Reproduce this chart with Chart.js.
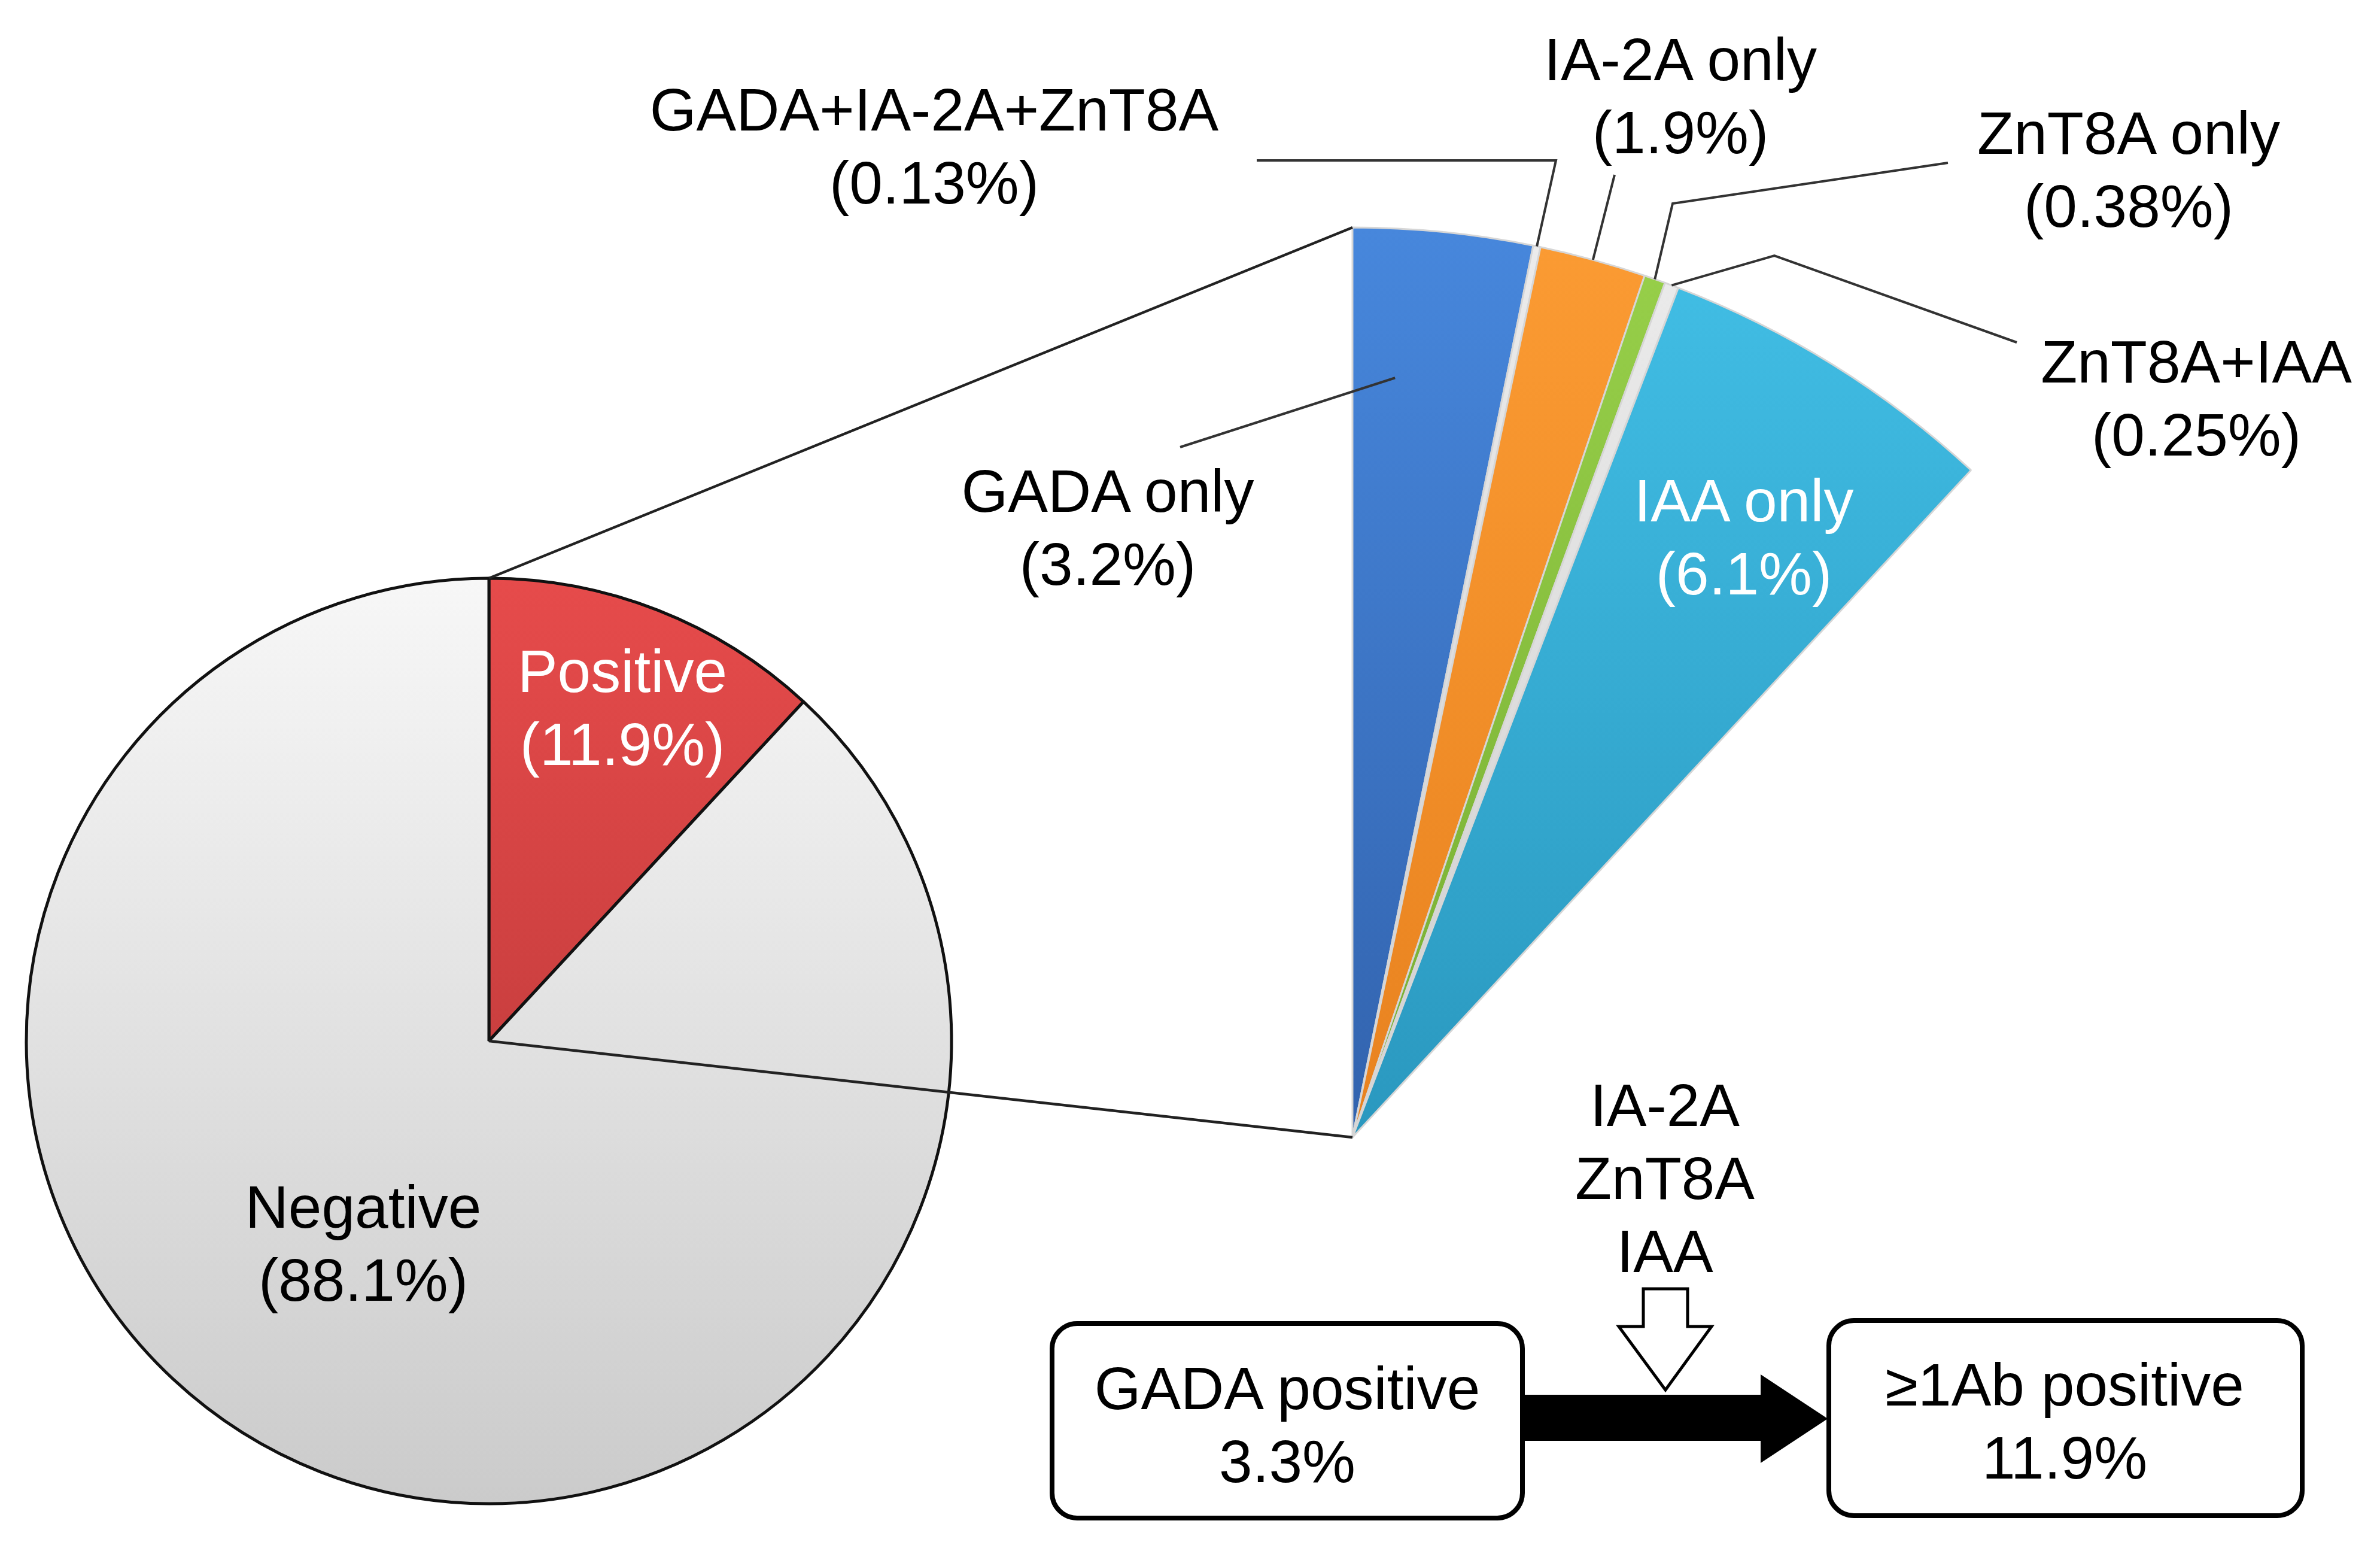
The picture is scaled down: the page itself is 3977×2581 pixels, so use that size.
<!DOCTYPE html>
<html>
<head>
<meta charset="utf-8">
<script src="https://cdn.jsdelivr.net/npm/chart.js@4.4.1/dist/chart.umd.min.js"></script>
<style>
  html, body { margin: 0; padding: 0; background: #fff; overflow: hidden; }
  #stage { position: relative; width: 3977px; height: 2581px; }
  #stage canvas, #stage svg { position: absolute; left: 0; top: 0; }
  .lbl {
    position: absolute; transform: translate(-50%, -50%);
    text-align: center; white-space: pre;
    font-family: "Liberation Sans", Arial, sans-serif;
    font-size: 100px; line-height: 122px; color: #000;
  }
  .white { color: #fff; }
</style>
</head>
<body>
<div id="stage">
  <canvas id="main-pie" width="3977" height="2581"></canvas>
  <canvas id="sub-pie" width="3977" height="2581"></canvas>
  <svg id="flow" width="3977" height="2581" xmlns="http://www.w3.org/2000/svg">
    <rect x="1758" y="2211" width="786" height="325" rx="42" fill="#fff" stroke="#000" stroke-width="8"/>
    <rect x="3056" y="2206" width="791" height="326" rx="42" fill="#fff" stroke="#000" stroke-width="8"/>
    <polygon points="2548,2330 2942,2330 2942,2296 3054,2370 2942,2444 2942,2407 2548,2407" fill="#000"/>
    <polygon points="2746,2153 2820,2153 2820,2216 2860,2216 2783,2322 2705,2216 2746,2216" fill="#fff" stroke="#000" stroke-width="5"/>
  </svg>
</div>
<script>
// overall result
const mainLabels = ['Positive', 'Negative'];
const mainValues = [11.9, 88.1];

// breakdown of the positive part (%)
const subLabels = ['GADA only', 'GADA+IA-2A+ZnT8A', 'IA-2A only', 'ZnT8A only', 'ZnT8A+IAA', 'IAA only'];
const subValues = [3.2, 0.13, 1.9, 0.38, 0.25, 6.1];

// flow diagram at the bottom
const flowFrom = ['GADA positive', '3.3%'];
const flowTo = ['\u22651Ab positive', '11.9%'];
const flowAdded = ['IA-2A', 'ZnT8A', 'IAA'];

// colours (top, bottom of gradient)
const mainColors = [['#e64b4b', '#ae3333'], ['#f7f7f7', '#cbcbcb']];
const subColors = [
  ['#4787dc', '#3263ae'], ['#ececec', '#cfcfcf'], ['#fb9b33', '#e8821f'],
  ['#98d04a', '#76ad32'], ['#ececec', '#cfcfcf'], ['#42bfe6', '#2a98bf']
];

// layout
const W = 3977, H = 2581;
const mainCenter = [817, 1739], mainRadius = 773;
const subApex = [2260, 1900], subRadius = 1520;
const mainLabelPos = [[1040, 1182], [607, 2077]];
const subLabelPos = [[1851, 881], [1561, 244], [2808, 160], [3557, 283], [3670, 665], [2914, 897]];
const leaderRoutes = [
  { anchor: [0.28, 0.836], path: [[1972, 747]] },
  { anchor: [0.5, 1], path: [[2600, 268], [2100, 268]] },
  { anchor: [0.5, 1], path: [[2698, 292]] },
  { anchor: [0.5, 1], path: [[2795, 340], [3255, 272]] },
  { anchor: [0.5, 1], path: [[2965, 427], [3370, 572]] },
  null
];

const subArcDeg = mainValues[0] / 100 * 360;
const sinArc = Math.sin(subArcDeg * Math.PI / 180);

function vGradient(context, stops) {
  const { ctx, chartArea } = context.chart;
  if (!chartArea) return stops[0];
  const g = ctx.createLinearGradient(0, chartArea.top, 0, chartArea.bottom);
  g.addColorStop(0, stops[0]);
  g.addColorStop(1, stops[1]);
  return g;
}

function arcPoint(arc, angFrac, radFrac) {
  const a = arc.startAngle + (arc.endAngle - arc.startAngle) * angFrac;
  const r = arc.outerRadius * radFrac;
  return [arc.x + r * Math.cos(a), arc.y + r * Math.sin(a)];
}

function polyline(ctx, pts) {
  ctx.beginPath();
  ctx.moveTo(pts[0][0], pts[0][1]);
  pts.slice(1).forEach(p => ctx.lineTo(p[0], p[1]));
  ctx.stroke();
}

const mainChart = new Chart(document.getElementById('main-pie'), {
  type: 'pie',
  data: {
    labels: mainLabels,
    datasets: [{
      data: mainValues,
      backgroundColor: c => vGradient(c, mainColors[c.dataIndex]),
      borderColor: '#111',
      borderWidth: 5,
      radius: mainRadius
    }]
  },
  options: {
    responsive: false,
    animation: false,
    layout: { padding: {
      left: mainCenter[0] - mainRadius, top: mainCenter[1] - mainRadius,
      right: W - mainCenter[0] - mainRadius, bottom: H - mainCenter[1] - mainRadius
    } },
    plugins: { legend: { display: false }, tooltip: { enabled: false } }
  }
});

const linesPlugin = {
  id: 'lines',
  afterDraw(chart) {
    const ctx = chart.ctx;
    const mainArc = mainChart.getDatasetMeta(0).data[0];
    const subArcs = chart.getDatasetMeta(0).data;
    ctx.save();
    ctx.strokeStyle = '#222';
    ctx.lineWidth = 4.5;
    polyline(ctx, [arcPoint(mainArc, 0, 1), arcPoint(subArcs[0], 0, 1)]);
    polyline(ctx, [[mainArc.x, mainArc.y], [subArcs[0].x, subArcs[0].y]]);
    ctx.lineWidth = 4;
    ctx.strokeStyle = '#333';
    leaderRoutes.forEach((route, i) => {
      if (!route) return;
      polyline(ctx, [arcPoint(subArcs[i], route.anchor[0], route.anchor[1])].concat(route.path));
    });
    ctx.restore();
  }
};

new Chart(document.getElementById('sub-pie'), {
  type: 'pie',
  data: {
    labels: subLabels,
    datasets: [{
      data: subValues,
      backgroundColor: c => vGradient(c, subColors[c.dataIndex]),
      borderColor: '#d6d6d6',
      borderWidth: 3,
      radius: subRadius,
      rotation: 0,
      circumference: subArcDeg
    }]
  },
  options: {
    responsive: false,
    animation: false,
    layout: { padding: {
      left: subApex[0], top: subApex[1] - subRadius,
      right: W - subApex[0] - sinArc * subRadius, bottom: H - subApex[1]
    } },
    plugins: { legend: { display: false }, tooltip: { enabled: false } }
  },
  plugins: [linesPlugin]
});

// text labels
const stage = document.getElementById('stage');
function addLabel(text, x, y, cls) {
  const d = document.createElement('div');
  d.className = 'lbl' + (cls ? ' ' + cls : '');
  d.textContent = text;
  d.style.left = x + 'px';
  d.style.top = y + 'px';
  stage.appendChild(d);
}
mainLabels.forEach((l, i) => {
  addLabel(`${l}\n(${mainValues[i]}%)`, mainLabelPos[i][0], mainLabelPos[i][1], i === 0 ? 'white' : '');
});
subLabels.forEach((l, i) => {
  addLabel(`${l}\n(${subValues[i]}%)`, subLabelPos[i][0], subLabelPos[i][1], i === 5 ? 'white' : '');
});
addLabel(flowFrom.join('\n'), 2151, 2380);
addLabel(flowTo.join('\n'), 3450, 2374);
addLabel(flowAdded.join('\n'), 2782, 1968);
</script>
</body>
</html>
